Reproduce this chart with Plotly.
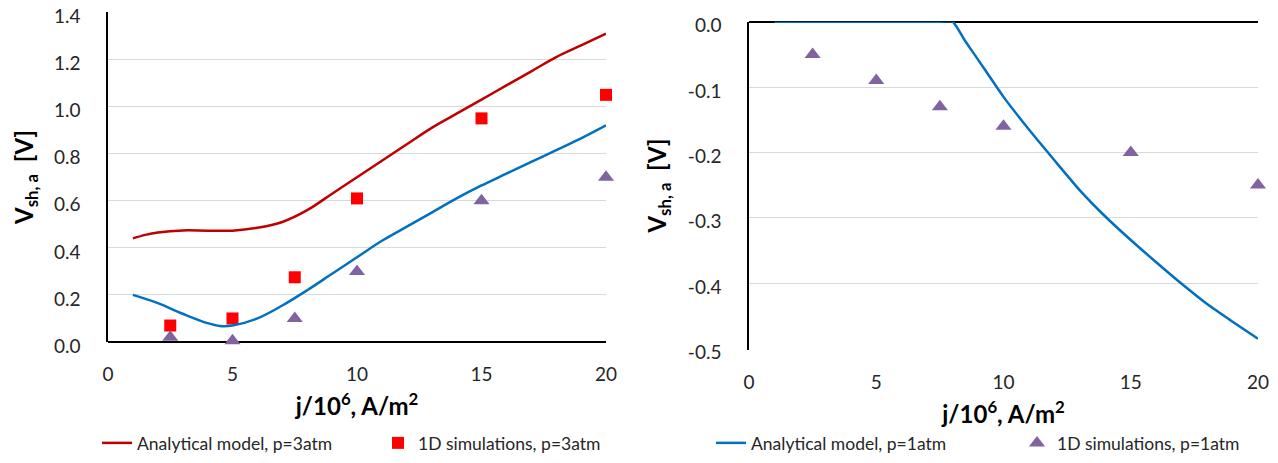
import plotly.graph_objects as go

# ---- Left panel data ----
j_model_3 = [1, 1.5, 2, 3, 4, 5, 6, 7, 8, 9, 10, 11, 12, 13, 14, 15, 16, 17, 18, 19, 20]
v_model_3atm = [0.44, 0.455, 0.465, 0.474, 0.473, 0.473, 0.485, 0.51, 0.56, 0.63, 0.70, 0.77, 0.84, 0.91, 0.97, 1.03, 1.09, 1.15, 1.21, 1.26, 1.31]
j_model_blue_left = [1, 2, 3, 4, 4.5, 5, 6, 7, 8, 9, 10, 11, 12, 13, 14, 15, 16, 17, 18, 19, 20]
v_model_blue_left = [0.20, 0.165, 0.12, 0.08, 0.068, 0.07, 0.10, 0.155, 0.22, 0.29, 0.36, 0.43, 0.49, 0.55, 0.61, 0.665, 0.715, 0.765, 0.815, 0.865, 0.92]
j_sim = [2.5, 5, 7.5, 10, 15, 20]
v_sim_3atm = [0.07, 0.10, 0.275, 0.61, 0.95, 1.05]
v_sim_tri_left = [0.02, 0.005, 0.10, 0.30, 0.60, 0.70]

# ---- Right panel data ----
j_model_1 = [1, 2, 3, 4, 5, 6, 7, 7.5, 8, 8.5, 9, 10, 11, 12, 13, 14, 15, 16, 17, 18, 19, 20]
v_model_1atm = [0, 0, 0, 0, 0, 0, 0, 0, 0, -0.03, -0.058, -0.115, -0.165, -0.212, -0.258, -0.298, -0.334, -0.368, -0.401, -0.432, -0.459, -0.485]
v_sim_1atm = [-0.05, -0.09, -0.13, -0.16, -0.20, -0.25]

x_ticks = [0, 5, 10, 15, 20]
y_ticks_left = [0, 0.2, 0.4, 0.6, 0.8, 1.0, 1.2, 1.4]
y_ticks_left_text = ["0.0", "0.2", "0.4", "0.6", "0.8", "1.0", "1.2", "1.4"]
y_ticks_right = [0, -0.1, -0.2, -0.3, -0.4, -0.5]
y_ticks_right_text = ["0.0", "-0.1", "-0.2", "-0.3", "-0.4", "-0.5"]

RED_LINE = "#C00000"
BLUE_LINE = "#0070C0"
RED_SQ = "#FF0000"
PURPLE = "#8064A2"
FONT = "Lato"
TXT = "#262626"

# page body has an 8px margin; figure is sized/positioned to compensate
OFF = 8
W, H = 1278 - OFF, 463 - OFF


def px_x(p):
    return (p - OFF) / W


def px_y(p):
    return 1 - (p - OFF) / H


fig = go.Figure()

# Left panel
fig.add_trace(go.Scatter(x=j_model_3, y=v_model_3atm, mode="lines", line=dict(color=RED_LINE, width=2.5, shape="spline"),
                         name="Analytical model, p=3atm", xaxis="x", yaxis="y", legend="legend"))
fig.add_trace(go.Scatter(x=j_sim, y=v_sim_3atm, mode="markers", marker=dict(symbol="square", color=RED_SQ, size=12),
                         name="1D simulations, p=3atm", xaxis="x", yaxis="y", legend="legend2", cliponaxis=False))
fig.add_trace(go.Scatter(x=j_model_blue_left, y=v_model_blue_left, mode="lines", line=dict(color=BLUE_LINE, width=2.5, shape="spline"),
                         showlegend=False, xaxis="x", yaxis="y"))
fig.add_trace(go.Scatter(x=j_sim, y=v_sim_tri_left, mode="markers", marker=dict(symbol="triangle-up", color=PURPLE, size=14),
                         showlegend=False, xaxis="x", yaxis="y", cliponaxis=False))

# Right panel
fig.add_trace(go.Scatter(x=j_model_1, y=v_model_1atm, mode="lines",
                         line=dict(color=BLUE_LINE, width=2.5, shape="spline", smoothing=0.5),
                         name="Analytical model, p=1atm", xaxis="x2", yaxis="y2", legend="legend3"))
fig.add_trace(go.Scatter(x=j_sim, y=v_sim_1atm, mode="markers", marker=dict(symbol="triangle-up", color=PURPLE, size=14),
                         name="1D simulations, p=1atm", xaxis="x2", yaxis="y2", legend="legend4", cliponaxis=False))

tickfont = dict(family=FONT, size=19, color=TXT)
titlefont = dict(family=FONT, size=24, color="#000000")

common_x = dict(range=[0, 20], tickvals=x_ticks, showgrid=False, zeroline=False, ticks="", automargin=False,
                tickfont=tickfont, ticklabelstandoff=19, ticklabeloverflow="allow",
                title=dict(text="<b>j/10<sup>6</sup>, A/m<sup>2</sup></b>", font=titlefont, standoff=14))
common_y = dict(showgrid=True, gridcolor="#D9D9D9", gridwidth=1, showline=True, linecolor="#000000", linewidth=1.5,
                ticks="", tickfont=tickfont, zeroline=True, zerolinecolor="#000000", zerolinewidth=1.5,
                automargin=False, ticklabelstandoff=22, ticklabeloverflow="allow", ticklabelshift=4,
                title=dict(text="<b>V<sub>sh, a</sub>  [V]</b>", font=titlefont, standoff=14))


def leg(xpx):
    return dict(orientation="h", x=px_x(xpx), y=px_y(425), xanchor="left", yanchor="top",
                font=dict(family=FONT, size=17.5, color=TXT), bgcolor="rgba(0,0,0,0)", itemwidth=30)


fig.update_layout(
    width=W, height=H,
    paper_bgcolor="white", plot_bgcolor="white",
    margin=dict(l=0, r=0, t=0, b=0, autoexpand=False),
    xaxis=dict(domain=[px_x(108), px_x(606)], anchor="y", **common_x),
    yaxis=dict(domain=[px_y(342), px_y(12)], anchor="x", range=[0, 1.402],
               tickvals=y_ticks_left, ticktext=y_ticks_left_text, **common_y),
    xaxis2=dict(domain=[px_x(749), px_x(1258)], anchor="y2", **common_x),
    yaxis2=dict(domain=[px_y(349.5), px_y(21.7)], anchor="x2", range=[-0.5015, 0],
                tickvals=y_ticks_right, ticktext=y_ticks_right_text, **common_y),
    legend=leg(97),
    legend2=leg(378),
    legend3=leg(711),
    legend4=leg(1017),
    showlegend=True,
)

fig.write_html("out.html")
